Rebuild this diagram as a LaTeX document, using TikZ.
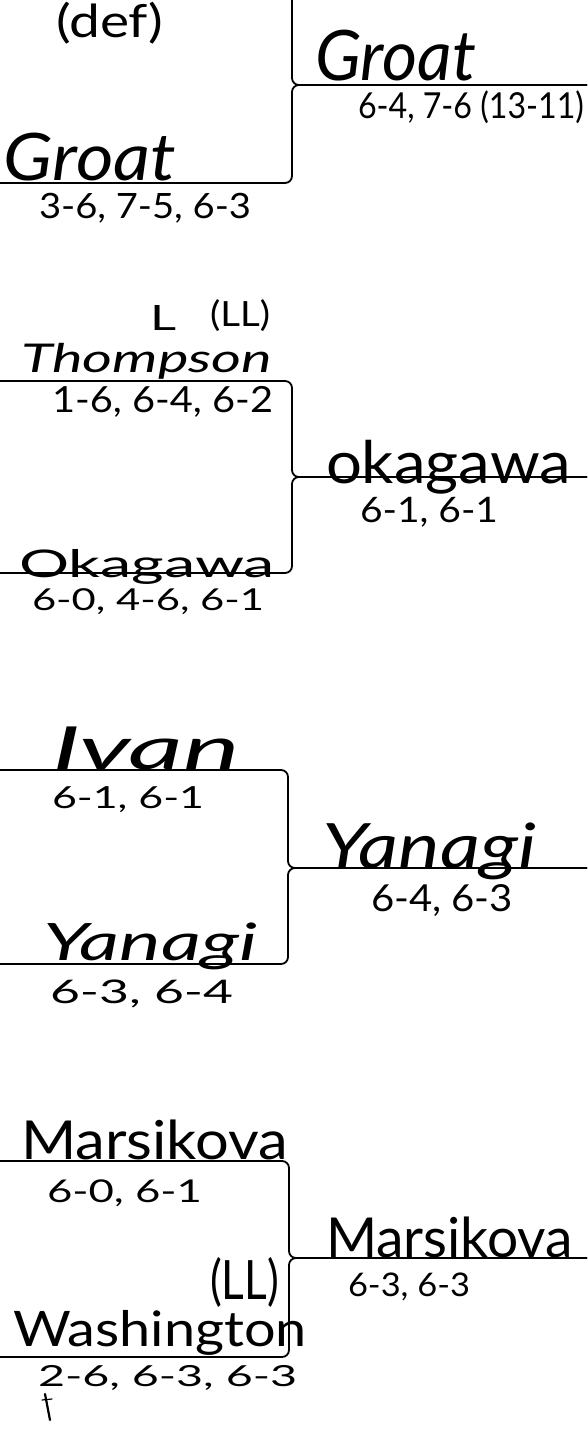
\documentclass[tikz,border=0pt]{standalone}
\usepackage{fontspec}
\usepackage{graphicx}
\setmainfont{Lato}
\newcommand{\hw}[3]{\resizebox*{#1pt}{#2pt}{#3}}
\tikzset{
  bracket/.style={line width=1.8pt, rounded corners=7pt, line join=round},
  lbl/.style={inner sep=0pt, outer sep=0pt, anchor=north west, font=\fontsize{20}{24}\selectfont},
  cur/.style={lbl, font=\fontsize{20}{24}\selectfont\itshape}
}
\begin{document}
\begin{tikzpicture}[x=1pt,y=-1pt]
\useasboundingbox (0,0) rectangle (587,1434);
% bracket coordinates
\coordinate (t1) at (0,-11);  \coordinate (j1) at (292,85);   \coordinate (b1) at (0,183);  \coordinate (r1) at (587,85);
\coordinate (t2) at (0,381);  \coordinate (j2) at (292,477);  \coordinate (b2) at (0,573);  \coordinate (r2) at (587,477);
\coordinate (t3) at (0,770);  \coordinate (j3) at (288,868);  \coordinate (b3) at (0,964);  \coordinate (r3) at (587,868);
\coordinate (t4) at (0,1161); \coordinate (j4) at (289,1258); \coordinate (b4) at (0,1357); \coordinate (r4) at (587,1258);
\foreach \i in {1,2,3,4}{
  \draw[bracket] (t\i) -| (j\i) -- (r\i);
  \draw[bracket] (b\i) -| (j\i) -- (r\i);
}
% bracket 1
\node[lbl] (def) at (56,2) {\hw{107}{42}{(def)}};
\node[cur] (groatR) at (315,30) {\hw{161}{51}{Groat}};
\node[lbl] (s1R) at (358,91) {\hw{226}{33}{6-4, 7-6 (13-11)}};
\node[cur] (groatL) at (4,133) {\hw{172}{48}{Groat}};
\node[lbl] (s1L) at (39,193) {\hw{212}{30}{3-6, 7-5, 6-3}};
% bracket 2
\node[lbl] (L) at (150,305) {\hw{26}{25}{L}};
\node[lbl] (ll1) at (210,300) {\hw{60}{32}{(LL)}};
\node[cur] (thompson) at (21,343) {\hw{251}{36}{Thompson}};
\node[lbl] (s2T) at (52,386) {\hw{221}{31}{1-6, 6-4, 6-2}};
\node[lbl] (okaR) at (326,440) {\hw{245}{54}{okagawa}};
\node[lbl] (s2R) at (360,497) {\hw{138}{30}{6-1, 6-1}};
\node[lbl] (okaL) at (19,549) {\hw{256}{35}{Okagawa}};
\node[lbl] (s2B) at (32,589) {\hw{232}{26}{6-0, 4-6, 6-1}};
% bracket 3
\node[cur] (ivan) at (52,727) {\hw{188}{43}{Ivan}};
\node[lbl] (s3T) at (52,787) {\hw{152}{26}{6-1, 6-1}};
\node[cur] (yanR) at (322,823) {\hw{214}{57}{Yanagi}};
\node[lbl] (s3R) at (371,885) {\hw{142}{32}{6-4, 6-3}};
\node[cur] (yanL) at (43,923) {\hw{214}{47}{Yanagi}};
\node[lbl] (s3B) at (50,980) {\hw{183}{28}{6-3, 6-4}};
% bracket 4
\node[lbl] (marsT) at (21,1120) {\hw{267}{40}{Marsikova}};
\node[lbl] (s4T) at (47,1180) {\hw{155}{27}{6-0, 6-1}};
\node[lbl] (marsR) at (326,1217) {\hw{247}{41}{Marsikova}};
\node[lbl] (s4R) at (348,1273) {\hw{122}{28}{6-3, 6-3}};
\node[lbl] (ll2) at (210,1257) {\hw{69}{50}{(LL)}};
\node[lbl] (wash) at (13,1310) {\hw{294}{45}{Washington}};
\node[lbl] (s4B) at (38,1365) {\hw{259}{25}{2-6, 6-3, 6-3}};
\draw[line width=2.2pt, line cap=round] (45,1394) -- (50,1420);
\draw[line width=1.2pt, line cap=round] (42,1400) -- (52,1399);
\end{tikzpicture}
\end{document}
